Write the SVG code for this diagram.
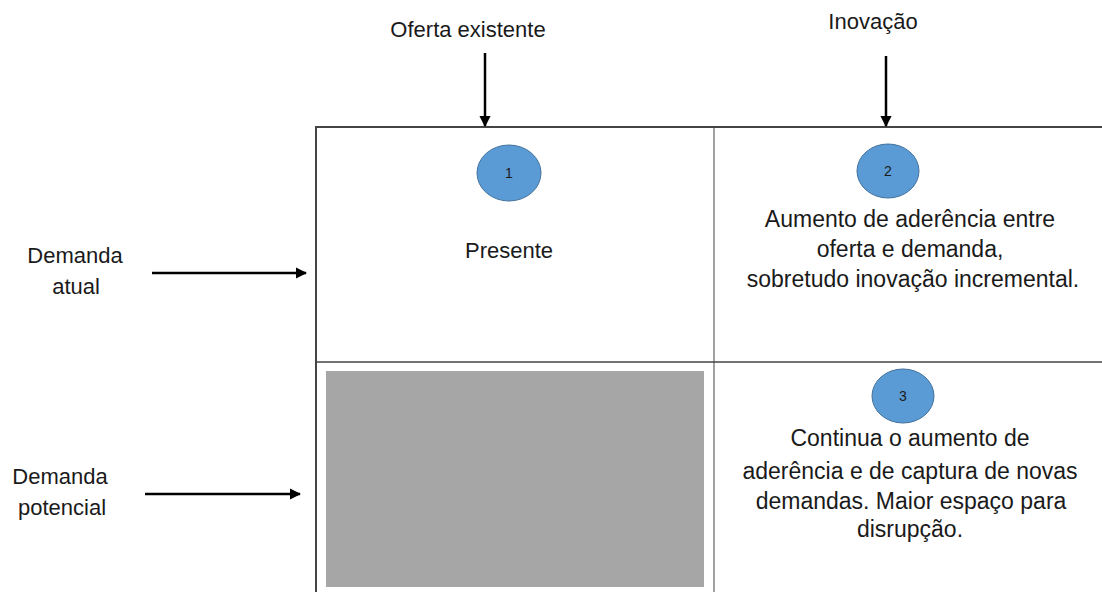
<svg xmlns="http://www.w3.org/2000/svg" width="1102" height="592" viewBox="0 0 1102 592">
<style>
text{font-family:"Liberation Sans",Arial,sans-serif;fill:#1a1a1a;text-anchor:middle}
.t{font-size:22px}
.b{font-size:23px}
.n{font-size:14px}
.c{fill:#5b9bd5;stroke:#41719c;stroke-width:1}
.a{stroke:#000;stroke-width:2.5;fill:none}
.g{stroke:#444;fill:none}
</style>
<defs>
<marker id="ah" viewBox="0 0 10 10" refX="9" refY="5" markerWidth="4.5" markerHeight="4.5" orient="auto" markerUnits="strokeWidth">
<path d="M0,0 L10,5 L0,10 z" fill="#000"/>
</marker>
</defs>
<rect width="1102" height="592" fill="#fff"/>
<g id="grid">
<line class="g" x1="316" y1="127" x2="1102" y2="127" stroke-width="2"/>
<line class="g" x1="316" y1="126" x2="316" y2="592" stroke-width="2"/>
<line class="g" x1="714" y1="127" x2="714" y2="592" stroke-width="1" stroke="#666"/>
<line class="g" x1="316" y1="362" x2="1102" y2="362" stroke-width="1.5"/>
</g>
<g id="labels">
<text class="t" x="468" y="37">Oferta existente</text>
<text class="t" x="873" y="29">Inovação</text>
<text class="t" x="75" y="263">Demanda</text>
<text class="t" x="76" y="294">atual</text>
<text class="t" x="60" y="484">Demanda</text>
<text class="t" x="62" y="515">potencial</text>
</g>
<g id="connectors">
<line class="a" x1="485" y1="53" x2="485" y2="126" marker-end="url(#ah)"/>
<line class="a" x1="886" y1="56" x2="886" y2="126" marker-end="url(#ah)"/>
<line class="a" x1="152" y1="273" x2="306" y2="273" marker-end="url(#ah)"/>
<line class="a" x1="145" y1="494" x2="300" y2="494" marker-end="url(#ah)"/>
</g>
<g id="cell1">
<ellipse class="c" cx="509" cy="173" rx="32" ry="28"/>
<text class="n" x="509" y="178">1</text>
<text class="t" x="509" y="258">Presente</text>
</g>
<g id="cell2">
<ellipse class="c" cx="888" cy="171" rx="31" ry="27"/>
<text class="n" x="888" y="176">2</text>
<text class="b" x="910" y="227">Aumento de aderência entre</text>
<text class="b" x="910" y="257">oferta e demanda,</text>
<text class="b" x="913" y="287">sobretudo inovação incremental.</text>
</g>
<g id="cell3">
<ellipse class="c" cx="903" cy="396" rx="31" ry="27"/>
<text class="n" x="903" y="401">3</text>
<text class="b" x="910" y="446">Continua o aumento de</text>
<text class="b" x="910" y="479">aderência e de captura de novas</text>
<text class="b" x="911" y="509">demandas. Maior espaço para</text>
<text class="b" x="910" y="537">disrupção.</text>
</g>
<g id="cellgray">
<rect x="326" y="371" width="378" height="216" fill="#a6a6a6"/>
</g>
</svg>
